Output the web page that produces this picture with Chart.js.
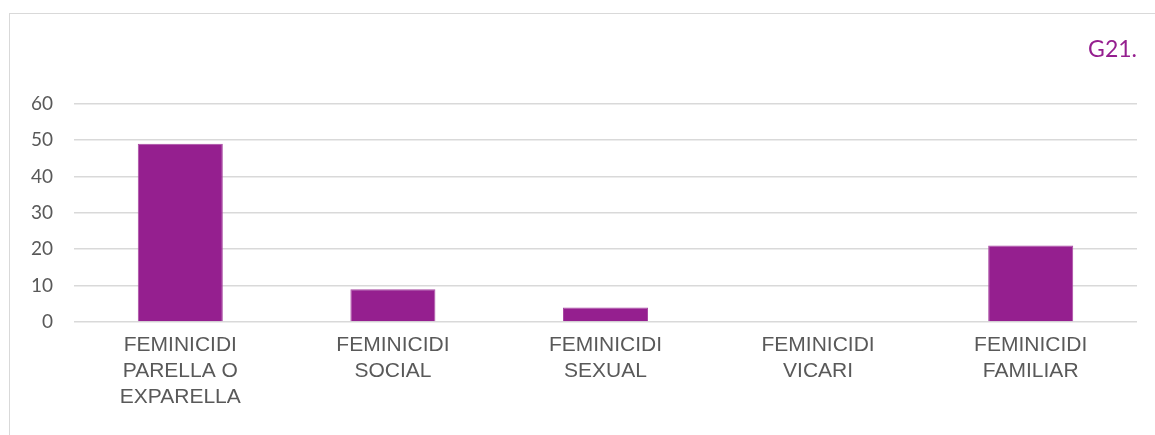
<!DOCTYPE html>
<html>
<head>
<meta charset="utf-8">
<script src="https://cdn.jsdelivr.net/npm/chart.js@4"></script>
<style>
    body { margin: 0; background: #fff; }
    #frame {
        position: absolute; left: 9px; top: 13px;
        width: 1160px; height: 440px;
        border: 1.5px solid #d9d9d9;
        box-sizing: border-box;
    }
    #wrap { position: absolute; left: 9px; top: 13px; width: 1146px; height: 422px; }
</style>
</head>
<body>
<div id="frame"></div>
<div id="wrap"><canvas id="chart"></canvas></div>
<script>
const categories = [
    ['FEMINICIDI', 'PARELLA O', 'EXPARELLA'],
    ['FEMINICIDI', 'SOCIAL'],
    ['FEMINICIDI', 'SEXUAL'],
    ['FEMINICIDI', 'VICARI'],
    ['FEMINICIDI', 'FAMILIAR']
]
const values = [49, 9, 4, 0, 21]
const chartTitle = 'G21.'

const purple = '#951f8f'
const grey = '#595959'

const ctx = document.getElementById('chart').getContext('2d')
const chart = new Chart(ctx, {
    type: 'bar',
    data: {
        labels: categories,
        datasets: [{
            data: values,
            backgroundColor: purple,
            borderColor: '#a94aa3',
            borderWidth: 1,
            barPercentage: 0.4,
            categoryPercentage: 1
        }]
    },
    options: {
        responsive: true,
        maintainAspectRatio: false,
        animation: false,
        layout: { padding: { left: 0, right: 18, top: 0, bottom: 0 } },
        plugins: {
            legend: { display: false },
            tooltip: { enabled: false },
            title: {
                display: true,
                text: chartTitle,
                align: 'end',
                color: purple,
                font: { family: 'Lato', size: 23, weight: 'normal' },
                padding: { top: 23, bottom: 40 }
            }
        },
        scales: {
            x: {
                grid: { display: false, drawTicks: false },
                border: { display: false },
                ticks: {
                    color: grey,
                    padding: 10,
                    maxRotation: 0,
                    autoSkip: false,
                    font: { family: 'Liberation Sans', size: 21, lineHeight: 1.25 }
                },
                afterFit: function (scale) { scale.height = 113 }
            },
            y: {
                min: 0,
                max: 60,
                grid: { color: '#d9d9d9', lineWidth: 1.5, drawTicks: false },
                border: { display: false },
                ticks: {
                    stepSize: 10,
                    color: grey,
                    padding: 21,
                    font: { family: 'Lato', size: 19 }
                },
                afterFit: function (scale) { scale.width = 65 }
            }
        }
    }
})
</script>
</body>
</html>
